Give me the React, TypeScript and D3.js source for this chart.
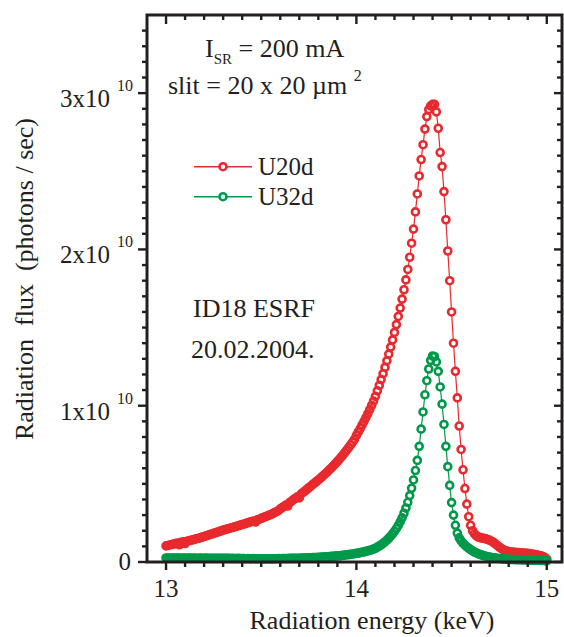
import * as d3 from 'd3';

// measured energies start at 13 keV, one reading every 0.01 keV
const energyStart = 13.0;
const energyStep = 0.01;

// flux in units of 1e10 photons/sec
const u20d = [
  0.103, 0.106, 0.109, 0.112, 0.115, 0.118, 0.121, 0.110, 0.126, 0.129,
  0.118, 0.133, 0.136, 0.139, 0.142, 0.145, 0.149, 0.152, 0.155, 0.159,
  0.163, 0.167, 0.171, 0.175, 0.179, 0.183, 0.187, 0.191, 0.195, 0.200,
  0.204, 0.207, 0.211, 0.214, 0.218, 0.221, 0.225, 0.228, 0.232, 0.236,
  0.240, 0.243, 0.247, 0.251, 0.255, 0.259, 0.262, 0.256, 0.270, 0.274,
  0.279, 0.284, 0.289, 0.294, 0.299, 0.304, 0.310, 0.316, 0.322, 0.329,
  0.340, 0.348, 0.356, 0.364, 0.358, 0.381, 0.390, 0.399, 0.408, 0.417,
  0.410, 0.436, 0.445, 0.455, 0.465, 0.475, 0.485, 0.495, 0.505, 0.515,
  0.525, 0.535, 0.546, 0.557, 0.568, 0.580, 0.592, 0.604, 0.617, 0.630,
  0.643, 0.657, 0.671, 0.686, 0.701, 0.717, 0.733, 0.750, 0.767, 0.785,
  0.810, 0.832, 0.854, 0.877, 0.900, 0.924, 0.949, 0.975, 1.002, 1.030,
  1.060, 1.095, 1.130, 1.167, 1.205, 1.245, 1.287, 1.330, 1.375, 1.421,
  1.469, 1.519, 1.571, 1.625, 1.682, 1.742, 1.805, 1.872, 1.950, 2.040,
  2.130, 2.240, 2.355, 2.470, 2.575, 2.670, 2.770, 2.850, 2.895, 2.918,
  2.928, 2.928, 2.880, 2.775, 2.620, 2.530, 2.370, 2.190, 1.990, 1.800,
  1.600, 1.400, 1.220, 1.050, 0.870, 0.720, 0.590, 0.470, 0.370, 0.290,
  0.235, 0.200, 0.180, 0.168, 0.160, 0.156, 0.153, 0.151, 0.148, 0.144,
  0.139, 0.133, 0.125, 0.116, 0.106, 0.096, 0.087, 0.080, 0.074, 0.070,
  0.067, 0.065, 0.063, 0.062, 0.061, 0.060, 0.059, 0.058, 0.057, 0.056,
  0.055, 0.053, 0.051, 0.049, 0.047, 0.045, 0.042, 0.039, 0.035, 0.029,
  0.018,
];

const u32d = [
  0.026, 0.025, 0.026, 0.025, 0.025, 0.026, 0.025, 0.025, 0.024, 0.025,
  0.025, 0.024, 0.025, 0.025, 0.024, 0.025, 0.024, 0.024, 0.025, 0.024,
  0.024, 0.025, 0.024, 0.024, 0.023, 0.024, 0.024, 0.023, 0.024, 0.023,
  0.023, 0.024, 0.023, 0.023, 0.022, 0.023, 0.022, 0.022, 0.023, 0.022,
  0.022, 0.022, 0.021, 0.022, 0.021, 0.021, 0.022, 0.021, 0.021, 0.021,
  0.021, 0.021, 0.020, 0.021, 0.021, 0.020, 0.021, 0.021, 0.021, 0.022,
  0.021, 0.022, 0.022, 0.022, 0.022, 0.023, 0.023, 0.023, 0.024, 0.024,
  0.024, 0.025, 0.025, 0.026, 0.026, 0.027, 0.027, 0.028, 0.028, 0.029,
  0.030, 0.030, 0.031, 0.032, 0.033, 0.034, 0.035, 0.036, 0.037, 0.038,
  0.039, 0.040, 0.041, 0.043, 0.044, 0.046, 0.047, 0.049, 0.051, 0.053,
  0.055, 0.057, 0.060, 0.062, 0.065, 0.068, 0.071, 0.075, 0.078, 0.083,
  0.088, 0.095, 0.102, 0.110, 0.119, 0.129, 0.140, 0.152, 0.165, 0.180,
  0.196, 0.214, 0.234, 0.257, 0.283, 0.312, 0.345, 0.382, 0.425, 0.472,
  0.525, 0.585, 0.650, 0.740, 0.850, 0.960, 1.070, 1.160, 1.235, 1.290,
  1.318, 1.315, 1.280, 1.220, 1.120, 1.010, 0.880, 0.740, 0.610, 0.490,
  0.380, 0.300, 0.235, 0.185, 0.155, 0.135, 0.120, 0.108, 0.097, 0.088,
  0.079, 0.071, 0.064, 0.058, 0.053, 0.048, 0.044, 0.040, 0.037, 0.034,
  0.031, 0.029, 0.027, 0.025, 0.023, 0.022, 0.021, 0.020, 0.019, 0.018,
  0.017, 0.016, 0.016, 0.015, 0.015, 0.014, 0.014, 0.013, 0.013, 0.013,
  0.012, 0.012, 0.012, 0.011, 0.011, 0.011, 0.010, 0.010, 0.010, 0.009,
  0.008,
];

const seriesNames = ['U20d', 'U32d'];
const seriesColors = ['#e8292e', '#00994a'];

const xTickValues = [13, 14, 15];
const xTickLabels = ['13', '14', '15'];
const yTickValues = [0, 1, 2, 3];
const yTickMantissa = ['0', '1x10', '2x10', '3x10'];
const yTickExponent = ['', '10', '10', '10'];

const width = 564;
const height = 637;
const margin = { top: 15, right: 2, bottom: 75, left: 147 };
const ink = '#231f20';
const font = '"Liberation Serif", "Times New Roman", serif';
const markerR = 3.5;
const markerW = 2.6;

function App() {
  const x = d3.scaleLinear().domain([12.9, 15.08]).range([margin.left, width - margin.right]);
  const y = d3.scaleLinear().domain([0, 3.5]).range([height - margin.bottom, margin.top]);
  const x0 = x.range()[0], x1 = x.range()[1];
  const y0 = y.range()[0], y1 = y.range()[1];

  const energies = u20d.map((_, i) => energyStart + i * energyStep);
  const line = d3.line<number>().x((_, i) => x(energies[i])).y(d => y(d));

  const xMinor = d3.range(130, 151).map(v => v / 10);
  const yMinor = d3.range(0, 35).map(v => v / 10);

  const series = [u20d, u32d];

  return (
    <svg width={width} height={height} style={{ position: 'absolute', left: 0, top: 0 }} fontFamily={font}>
      <rect width={width} height={height} fill="#fff" />

      {/* curves: line, then white disks, then the rings on top */}
      {series.map((s, k) => (
        <g key={seriesNames[k]}>
          <path d={line(s) || ''} fill="none" stroke={seriesColors[k]} strokeWidth={1.2} />
          {s.map((v, i) => (
            <circle key={'f' + i} cx={x(energies[i])} cy={y(v)} r={markerR} fill="#fff" />
          ))}
          {s.map((v, i) => (
            <circle key={'r' + i} cx={x(energies[i])} cy={y(v)} r={markerR} fill="none"
              stroke={seriesColors[k]} strokeWidth={markerW} />
          ))}
        </g>
      ))}

      {/* ticks */}
      <g stroke={ink} strokeWidth={2.4}>
        {xMinor.map(v => {
          const major = xTickValues.includes(v);
          return (
            <g key={'x' + v}>
              <line x1={x(v)} x2={x(v)} y1={y0} y2={y0 + (major ? 8 : 5)} />
              <line x1={x(v)} x2={x(v)} y1={y1} y2={y1 + (major ? 9 : 5)} />
            </g>
          );
        })}
        {yMinor.map(v => {
          const major = yTickValues.includes(v);
          return (
            <g key={'y' + v}>
              <line x1={x0} x2={x0 - (major ? 9 : 5)} y1={y(v)} y2={y(v)} />
              <line x1={x1} x2={x1 - (major ? 8 : 5)} y1={y(v)} y2={y(v)} />
            </g>
          );
        })}
      </g>

      {/* frame */}
      <rect x={x0} y={y1} width={x1 - x0} height={y0 - y1} fill="none" stroke={ink} strokeWidth={3} />

      {/* tick labels */}
      <g fill={ink} fontSize={25}>
        {xTickValues.map((v, i) => (
          <text key={v} x={x(v)} y={y0 + 35} textAnchor="middle">{xTickLabels[i]}</text>
        ))}
        {yTickValues.map((v, i) => yTickExponent[i] ? (
          <text key={v} x={110} y={y(v) + 14} textAnchor="end">
            {yTickMantissa[i]}
            <tspan x={117} dy={-16} fontSize={16} textAnchor="start">{yTickExponent[i]}</tspan>
          </text>
        ) : (
          <text key={v} x={131} y={y(v) + 8} textAnchor="end">{yTickMantissa[i]}</text>
        ))}
      </g>

      {/* axis titles */}
      <text x={372} y={629} textAnchor="middle" fontSize={26} fill={ink}>Radiation energy (keV)</text>
      <text transform="translate(33,279) rotate(-90)" textAnchor="middle" fontSize={26} fill={ink}
        style={{ whiteSpace: 'pre' }}>{'Radiation  flux  (photons / sec)'}</text>

      {/* annotations */}
      <g fill={ink} fontSize={26}>
        <text x={205} y={57}>
          I<tspan fontSize={15} dy={7}>SR</tspan><tspan dy={-7}>{' = 200 mA'}</tspan>
        </text>
        <text x={168} y={94} style={{ whiteSpace: 'pre' }}>
          {'slit = 20 x 20 \u00b5m '}<tspan fontSize={16} dy={-13}>2</tspan>
        </text>
        <text x={193} y={317}>ID18 ESRF</text>
        <text x={191} y={358}>20.02.2004.</text>
      </g>

      {/* legend */}
      {seriesNames.map((name, k) => {
        const ly = 166.7 + k * 30;
        return (
          <g key={name}>
            <line x1={194} x2={252} y1={ly} y2={ly} stroke={seriesColors[k]} strokeWidth={1.4} />
            <circle cx={223} cy={ly} r={markerR} fill="#fff" stroke={seriesColors[k]} strokeWidth={markerW} />
            <text x={258} y={ly + 8.5} fontSize={25} fill={ink}>{name}</text>
          </g>
        );
      })}
    </svg>
  );
}

export default App;
